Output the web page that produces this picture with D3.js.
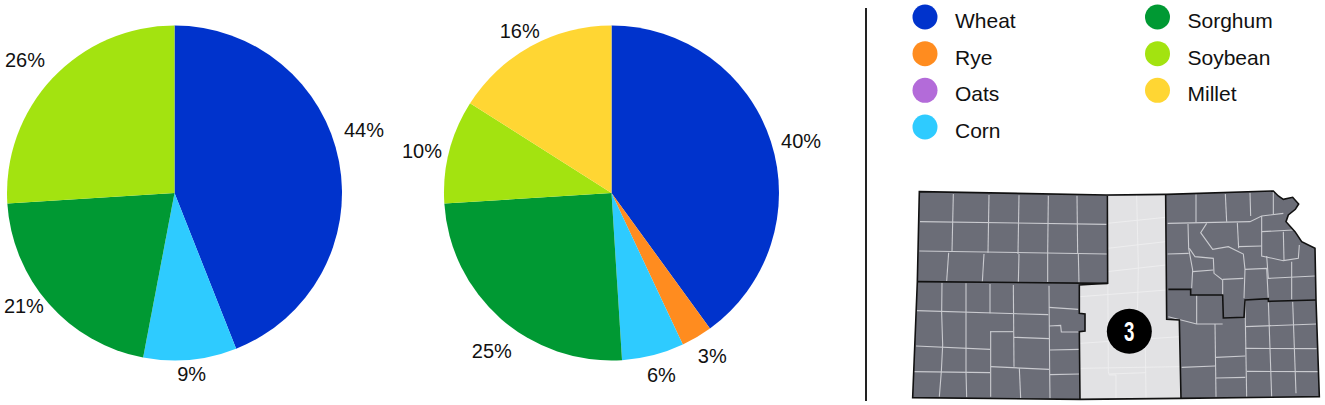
<!DOCTYPE html>
<html><head><meta charset="utf-8">
<style>html,body{margin:0;background:#fff}svg{display:block}text{font-family:"Liberation Sans",sans-serif;fill:#111}</style>
<script src="https://cdnjs.cloudflare.com/ajax/libs/d3/7.8.5/d3.min.js"></script></head><body>
<svg id="c" width="1325" height="405"></svg>
<script>
const categories=["Wheat","Rye","Oats","Corn","Sorghum","Soybean","Millet"];
const colors=["#0033cc","#ff8c1f","#b36bd9","#2ecbff","#009933","#a3e310","#ffd633"];
const leftValues=[44,0,0,9,21,26,0];
const rightValues=[40,3,0,6,25,10,16];
const legendRows=[0,1,2,3,0,1,2];
const legendCols=[0,0,0,0,1,1,1];
const districtLabel="3";
// label nudges from each slice's outer mid-point: [radial px, degrees]
const leftLabelNudge=[[32,-7.5],0,0,[14,0],[20.6,4.6],[32.5,-1.6],0];
const rightLabelNudge=[[29,2.7],[23.8,-1.2],0,[21.7,-.9],[30.4,-4.2],[26.6,-1.9],[18.3,-.8]];
// map geometry (crop units)
const kansas=[[58,35],[620,45],[800,43],[1120,33],[1135,48],[1150,58],[1178,52],[1196,72],[1186,88],[1165,105],[1158,125],[1185,155],[1205,185],[1245,205],[1248,360],[1258,650],[840,655],[540,658],[38,653],[52,305]];
const district3=[[622,47],[797,45],[800,418],[838,420],[843,655],[540,657],[538,455],[555,453],[555,402],[538,400],[538,315],[623,310]];
const countyLines=[[[60,125],[620,133]],[[58,213],[622,222]],[[160,42],[156,215]],[[267,45],[264,218]],[[357,46],[354,222]],[[445,47],[443,222]],[[531,47],[533,222]],[[146,218],[140,303]],[[252,222],[247,305]],[[357,222],[355,308]],[[443,222],[443,308]],[[535,222],[537,310]],
[[126,308],[125,400],[128,495],[124,575],[118,650]],[[198,310],[198,500],[198,575],[200,652]],[[270,312],[270,400]],[[340,315],[342,560]],[[447,317],[449,575],[450,655]],[[50,392],[445,404]],[[48,498],[270,508]],[[42,575],[270,578]],[[270,455],[340,455]],[[272,455],[272,650]],[[272,560],[447,568]],[[358,565],[362,655]],[[342,472],[447,476]],[[447,382],[535,388]],[[447,438],[482,436],[484,456],[538,456]],[[450,510],[538,508]],[[450,584],[540,582]],
[[888,43],[888,128]],[[976,42],[980,125]],[[1050,38],[1052,108]],[[803,130],[1050,125],[1085,108],[1150,100]],[[1120,35],[1120,102]],[[864,132],[866,205],[878,270],[875,325]],[[803,222],[866,220]],[[920,130],[902,158],[938,208],[985,200],[1030,222],[1035,268],[1032,355]],[[1012,128],[1016,205]],[[1085,108],[1085,228],[1150,242],[1195,235],[1198,195]],[[1085,155],[1180,150]],[[1150,155],[1152,240]],[[868,205],[885,230],[940,235],[942,280],[968,300],[968,345]],[[878,275],[940,270]],[[968,298],[1030,295]],[[1035,268],[1100,265],[1105,360]],[[1100,228],[1105,295],[1245,288]],[[1175,245],[1175,358]],[[1016,200],[1085,198]],
[[890,345],[890,432]],[[805,410],[890,432],[968,432]],[[945,432],[948,650]],[[845,562],[945,558]],[[948,532],[1036,528]],[[948,594],[1036,592]],[[1035,360],[1040,650]],[[1036,440],[1250,432]],[[1036,505],[1250,506]],[[1040,574],[1255,575]],[[1105,362],[1115,650]],[[1178,365],[1188,640]]];
const districtLines=[[[710,47],[715,260],[712,420]],[[622,47],[625,575],[628,585],[648,585],[648,655]],[[622,130],[797,112]],[[622,205],[797,185]],[[622,275],[797,255]],[[540,350],[800,330]],[[540,490],[840,470]],[[540,565],[840,560]],[[735,420],[738,655]],[[628,582],[738,578]]];
const thickLines=[[[622,47],[623,310],[538,315],[538,400],[555,402],[555,453],[538,455],[540,657]],[[797,45],[800,418],[838,420],[843,655]],[[52,305],[623,310]],[[805,328],[872,328],[872,345],[968,345],[970,414],[1032,412],[1035,360],[1105,356],[1105,364],[1248,360]]];

const svg=d3.select("#c");
const pie=d3.pie().sort(null).value(d=>d);
function drawPie(vals,cx,cy,r,nudge){
  const g=svg.append("g").attr("transform",`translate(${cx},${cy})`);
  const arc=d3.arc().innerRadius(0).outerRadius(r);
  const arcs=pie(vals);
  g.selectAll("path").data(arcs).join("path").attr("d",arc).attr("fill",(d,i)=>colors[i]);
  const ang=d=>(d.startAngle+d.endAngle)/2+nudge[d.index][1]*Math.PI/180;
  g.selectAll("text").data(arcs.filter(d=>d.value>0)).join("text")
   .attr("text-anchor","middle").attr("dominant-baseline","central").style("font-size","20px")
   .attr("x",d=>Math.sin(ang(d))*(r+nudge[d.index][0]))
   .attr("y",d=>-Math.cos(ang(d))*(r+nudge[d.index][0]))
   .text(d=>d.value+"%");
}
drawPie(leftValues,174.5,193,167.5,leftLabelNudge);
drawPie(rightValues,611.5,193,167.5,rightLabelNudge);

svg.append("line").attr("x1",866).attr("x2",866).attr("y1",8).attr("y2",401).attr("stroke","#222").attr("stroke-width",2);

const lx=d3.scaleOrdinal().domain([0,1]).range([925,1157.5]);
const ly=d3.scaleLinear().domain([0,3]).range([17,127]);
const lg=svg.append("g");
categories.forEach((c,i)=>{
  lg.append("circle").attr("cx",lx(legendCols[i])).attr("cy",ly(legendRows[i])).attr("r",12.5).attr("fill",colors[i]);
  lg.append("text").attr("x",lx(legendCols[i])+30).attr("y",ly(legendRows[i])+11).style("font-size","21px").text(c);
});

const mx=d3.scaleLinear().domain([0,1]).range([900,900+1/3]);
const my=d3.scaleLinear().domain([0,1]).range([180,180+1/3]);
const line=d3.line().x(d=>mx(d[0])).y(d=>my(d[1]));
const m=svg.append("g").attr("fill","none");
m.append("path").attr("d",line.curve(d3.curveLinearClosed)(kansas)).attr("fill","#6b6d77");
line.curve(d3.curveLinear);
m.selectAll(".cl").data(countyLines).join("path").attr("class","cl").attr("d",line).attr("stroke","#c9cacf").attr("stroke-width",1.1);
m.append("path").attr("d",line.curve(d3.curveLinearClosed)(district3)).attr("fill","#e2e2e4");
line.curve(d3.curveLinear);
m.selectAll(".dl").data(districtLines).join("path").attr("class","dl").attr("d",line).attr("stroke","#eeeeef").attr("stroke-width",.9);
m.selectAll(".tl").data(thickLines).join("path").attr("class","tl").attr("d",line).attr("stroke","#111").attr("stroke-width",1.6);
m.append("path").attr("d",line.curve(d3.curveLinearClosed)(kansas)).attr("stroke","#111").attr("stroke-width",1.6);
svg.append("circle").attr("cx",mx(688)).attr("cy",my(454)).attr("r",22.5).attr("fill","#000");
svg.append("text").attr("transform",`translate(${mx(688)},${my(454)}) scale(.78,1.15)`).attr("text-anchor","middle").attr("dominant-baseline","central").style("font-size","24px").style("font-weight","700").style("fill","#fff").text(districtLabel);
</script></body></html>
